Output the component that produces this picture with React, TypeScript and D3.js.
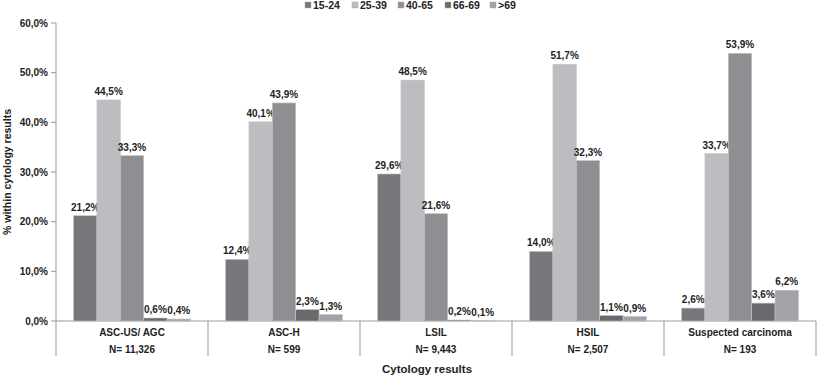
import React from "react";
import * as d3 from "d3";

const categories = ["ASC-US/ AGC", "ASC-H", "LSIL", "HSIL", "Suspected carcinoma"];
const counts = ["N= 11,326", "N= 599", "N= 9,443", "N= 2,507", "N= 193"];
const seriesNames = ["15-24", "25-39", "40-65", "66-69", ">69"];
const s1524 = [21.2, 12.4, 29.6, 14.0, 2.6];
const s2539 = [44.5, 40.1, 48.5, 51.7, 33.7];
const s4065 = [33.3, 43.9, 21.6, 32.3, 53.9];
const s6669 = [0.6, 2.3, 0.2, 1.1, 3.6];
const s69 = [0.4, 1.3, 0.1, 0.9, 6.2];
const yTicks = [0, 10, 20, 30, 40, 50, 60];
const colors = ["#78787c", "#bdbdc1", "#8f8f93", "#6a6a6e", "#a3a3a7"];

const series = [s1524, s2539, s4065, s6669, s69];

const fmt = (v: number) => v.toFixed(1).replace(".", ",") + "%";

export default function App() {
  const W = 817, H = 376;
  const left = 56, right = 816, top = 23, bottom = 321;
  const x = d3.scaleBand<string>().domain(categories).range([left, right]).paddingInner(0).paddingOuter(0);
  const xs = d3.scaleBand<string>().domain(seriesNames).range([0, x.bandwidth()]).paddingOuter(0.75).paddingInner(0);
  const y = d3.scaleLinear().domain([0, 60]).range([bottom, top]);
  const font = "Arial, 'Liberation Sans', sans-serif";
  const legendX = [305, 352, 398, 445, 490];

  return (
    <svg width={W} height={H} style={{ position: "absolute", left: 0, top: 0 }} fontFamily={font}>
      <rect width={W} height={H} fill="#fff" />
      {/* legend */}
      {seriesNames.map((n, i) => (
        <g key={n}>
          <rect x={legendX[i]} y={2} width={6} height={6} fill={colors[i]} stroke="#aaa" strokeWidth={0.5} />
          <text x={legendX[i] + 8} y={9} fontSize={10.5} fontWeight="bold" fill="#222">{n}</text>
        </g>
      ))}
      {/* y axis */}
      <line x1={left} x2={left} y1={y(60)} y2={356} stroke="#999" />
      {yTicks.map(t => (
        <g key={t}>
          <line x1={left - 5} x2={left} y1={y(t)} y2={y(t)} stroke="#999" />
          <text x={48} y={y(t) + 3.5} textAnchor="end" fontSize={10} fontWeight="bold" fill="#222">{fmt(t)}</text>
        </g>
      ))}
      <text transform={`translate(11,${(top + bottom) / 2}) rotate(-90)`} textAnchor="middle" fontSize={10.5} fontWeight="bold" fill="#222">% within cytology results</text>
      {/* x axis */}
      <line x1={left} x2={right} y1={bottom} y2={bottom} stroke="#999" />
      {categories.map((c, ci) => (
        <g key={c}>
          <line x1={(x(c) as number) + x.bandwidth()} x2={(x(c) as number) + x.bandwidth()} y1={bottom} y2={356} stroke="#999" />
          <text x={(x(c) as number) + x.bandwidth() / 2} y={336} textAnchor="middle" fontSize={10} fontWeight="bold" fill="#222">{c}</text>
          <text x={(x(c) as number) + x.bandwidth() / 2} y={353} textAnchor="middle" fontSize={10} fontWeight="bold" fill="#222">{counts[ci]}</text>
          {series.map((s, si) => {
            const bx = (x(c) as number) + (xs(seriesNames[si]) as number);
            const v = s[ci];
            return (
              <g key={si}>
                <rect x={bx} y={y(v)} width={xs.bandwidth()} height={bottom - y(v)} fill={colors[si]} stroke="#c4c4c4" strokeWidth={0.6} />
                <text x={bx + xs.bandwidth() / 2} y={y(v) - 5} textAnchor="middle" fontSize={10} fontWeight="bold" fill="#222">{fmt(v)}</text>
              </g>
            );
          })}
        </g>
      ))}
      <text x={427} y={373} textAnchor="middle" fontSize={11.5} fontWeight="bold" fill="#222">Cytology results</text>
    </svg>
  );
}
